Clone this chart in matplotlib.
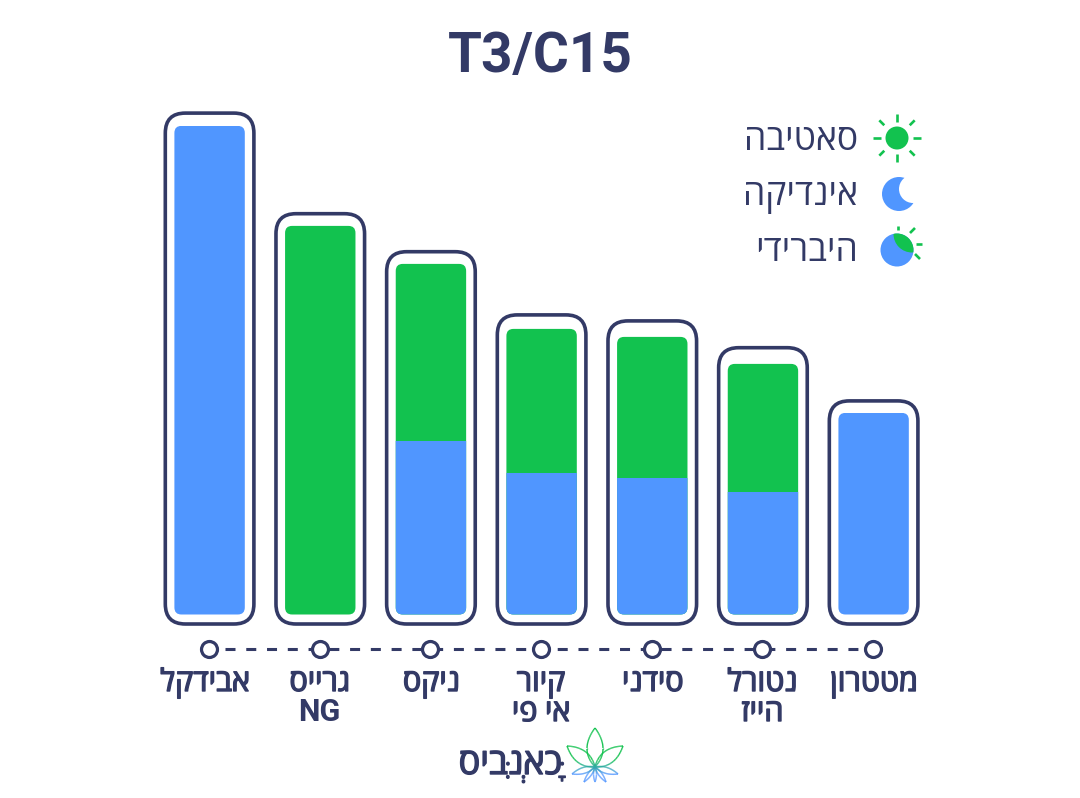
import re
import numpy as np
import matplotlib
matplotlib.use('Agg')
import matplotlib.pyplot as plt
import matplotlib.patheffects as pe
from matplotlib.collections import LineCollection
from matplotlib.colors import to_rgb
from matplotlib.patches import Circle, FancyBboxPatch, Rectangle

plt.rcParams['font.family'] = ['Roboto', 'Open Sans', 'Liberation Sans', 'DejaVu Sans']
plt.rcParams['lines.scale_dashes'] = False

# data
strains = ['אבידקל', 'גרייס\nNG', 'ניקס', 'קיור\nאי פי', 'סידני', 'נטורל\nהייז', 'מטטרון']
totals = [24.43, 19.43, 17.53, 14.28, 13.88, 12.53, 10.08]
indica = [24.43, 0, 8.68, 7.08, 6.83, 6.13, 10.08]
sativa = [0, 19.43, 8.85, 7.2, 7.05, 6.4, 0]
frame_tops = [25.07, 20.04, 18.14, 14.98, 14.68, 13.34, 10.68]
title = 'T3/C15'
legend_names = ['סאטיבה', 'אינדיקה', 'היברידי']
brand = 'כָּאנְבִּיס'

BLUE = '#5096FF'
GREEN = '#12C24F'
NAVY = '#333A66'

W, H = 1080, 798
X0, DX = 209, 110.67   # pixel of first bar, pixels per category
Y0, DY = 614.5, 20     # pixel of zero, pixels per unit


def visual(text):
    # matplotlib has no bidi, so put Hebrew runs in drawing order
    if text.isascii():
        return text
    clusters = re.findall(r'.[\u0591-\u05c7]*', text)
    return ''.join(reversed(clusters))


fig = plt.figure(figsize=(W / 100, H / 100), dpi=100, facecolor='white')
ax = fig.add_axes([0, 0, 1, 1])
ax.set_xlim(-X0 / DX, (W - X0) / DX)
ax.set_ylim(-(H - Y0) / DY, Y0 / DY)
ax.axis('off')

# one pixel in x units and in y units, for the rounded corners
px, py = 1 / DX, 1 / DY
aspect = py / px
heavy = [pe.withStroke(linewidth=1.0, foreground=NAVY)]


def rounded(x, bottom, top, half_px, radius_px, **kw):
    patch = FancyBboxPatch((x + 0.6 * px - half_px * px, bottom), 2 * half_px * px, top - bottom,
                           boxstyle=f'round,pad=0,rounding_size={radius_px * px}',
                           mutation_aspect=aspect, **kw)
    return ax.add_patch(patch)


for i, total in enumerate(totals):
    rounded(i, -9.5 * py, frame_tops[i], 44.3, 20, fc='white', ec=NAVY, lw=2.6, zorder=2)
    if sativa[i] > 0:
        rounded(i, 0, total, 35.2, 7, fc=GREEN, ec='none', zorder=3)
    if indica[i] > 0:
        bar = rounded(i, 0, total, 35.2, 7, fc=BLUE, ec='none', zorder=4)
        bar.set_clip_path(Rectangle((i - 40 * px, -2), 80 * px, indica[i] + 2, transform=ax.transData))

# baseline with the dashed connector and the rings
axis_y = (Y0 - 649) / DY
ax.plot([16 * px, len(totals) - 1 - 10 * px], [axis_y, axis_y], color=NAVY, lw=2.2,
        linestyle=(0, (7.2, 7.75)), dash_capstyle='butt', zorder=1)
ax.plot(range(len(totals)), [axis_y] * len(totals), 'o', ms=11.5, mfc='white', mec=NAVY, mew=2.3,
        linestyle='none', zorder=2)

# category labels, the first one sits a little left of its bar
label_nudge = [-4, 0, 1, 0, 1, 0, 1]
for i, name in enumerate(strains):
    for j, line in enumerate(name.split('\n')):
        t = ax.text(i + label_nudge[i] * px, (Y0 - 691 - 30 * j) / DY, visual(line),
                    ha='center', va='baseline', fontsize=22, color=NAVY,
                    fontweight='bold' if line.isascii() else 'medium')
        if not line.isascii():
            t.set_path_effects(heavy)

# everything else is placed in pixels
ov = fig.add_axes([0, 0, 1, 1], facecolor='none')
ov.set_xlim(0, W)
ov.set_ylim(H, 0)
ov.axis('off')

ov.text(540, 72, title, ha='center', va='baseline', fontsize=39.5, fontweight='bold', color=NAVY)

# legend
for name, y in zip(legend_names, [150, 205, 261]):
    ov.text(858, y, visual(name), ha='right', va='baseline', fontsize=25.7, color=NAVY)

# sun icon
ov.add_patch(Circle((897, 138), 11.5, fc=GREEN, ec='none'))
for a in np.arange(8) * np.pi / 4:
    r0, r1 = (16, 24) if a % (np.pi / 2) < 0.01 else (18, 25)
    ov.plot([897 + r0 * np.cos(a), 897 + r1 * np.cos(a)], [138 + r0 * np.sin(a), 138 + r1 * np.sin(a)],
            color=GREEN, lw=1.9, solid_capstyle='butt')

# moon icon
ov.add_patch(Circle((899, 194), 17, fc=BLUE, ec='none'))
ov.add_patch(Circle((913, 189), 14, fc='white', ec='none'))

# hybrid icon
disc = ov.add_patch(Circle((897, 250), 16.5, fc=BLUE, ec='none'))
lens = ov.add_patch(Circle((912, 234), 18.5, fc=GREEN, ec='none'))
lens.set_clip_path(disc)
for x0, y0, x1, y1 in [(898, 226, 898, 230), (910, 233, 915, 228), (916, 244, 922, 244), (915, 254, 920, 259)]:
    ov.plot([x0, x1], [y0, y1], color=GREEN, lw=1.9, solid_capstyle='butt')

# brand mark
ov.text(562, 774, visual(brand), ha='right', va='baseline', fontsize=26, fontweight='medium', color=NAVY,
        path_effects=heavy)


def leaf(tip, base, width):
    # outline of one leaf as two quadratic curves
    tip, base = np.array(tip, float), np.array(base, float)
    d = tip - base
    n = np.array([-d[1], d[0]]) / np.hypot(*d) * width
    mid = base + d * 0.45
    t = np.linspace(0, 1, 40)[:, None]
    left = (1 - t) ** 2 * base + 2 * t * (1 - t) * (mid + n) + t ** 2 * tip
    right = (1 - t) ** 2 * tip + 2 * t * (1 - t) * (mid - n) + t ** 2 * base
    return np.vstack([left, right])


c0, c1 = np.array(to_rgb(GREEN)), np.array(to_rgb(BLUE))
hub = (595, 767)
for tip, base, width in [((595, 728), hub, 16), ((567, 746), hub, 13), ((623, 746), hub, 13),
                         ((572, 774), hub, 6), ((618, 774), hub, 6),
                         ((584, 782), hub, 3.5), ((606, 782), hub, 3.5), ((595, 782), hub, 3)]:
    pts = leaf(tip, base, width)
    segs = np.stack([pts[:-1], pts[1:]], axis=1)
    f = np.clip((segs[:, :, 1].mean(axis=1) - 760) / 14, 0, 1)[:, None]
    ov.add_collection(LineCollection(segs, colors=c0 * (1 - f) + c1 * f, linewidths=1.0))

fig.savefig('out.png', dpi=100)
